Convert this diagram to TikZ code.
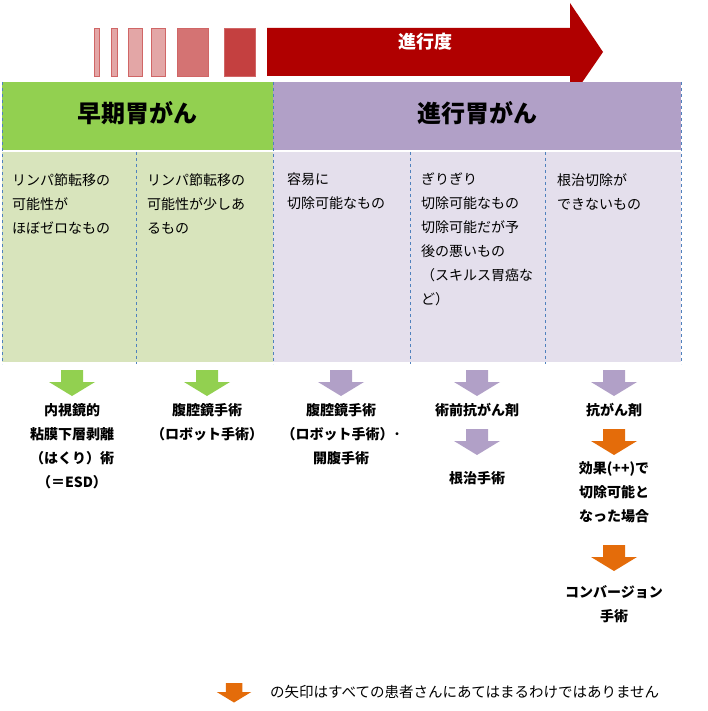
\documentclass[tikz,border=0pt]{standalone}
\usepackage{fontspec}
\setmainfont{Noto Sans CJK JP}
\definecolor{gA}{HTML}{92D050}
\definecolor{gB}{HTML}{D8E4BC}
\definecolor{pA}{HTML}{B1A0C7}
\definecolor{pB}{HTML}{E4DFEC}
\definecolor{rA}{HTML}{B00000}
\definecolor{oA}{HTML}{E46C0A}
\definecolor{dl}{HTML}{4F81BD}
\tikzset{
 dv/.style={draw=dl,dashed,line width=0.6pt},
 cell/.style={anchor=north west,align=left,font=\fontsize{14}{24}\selectfont,inner sep=0pt},
 lab/.style={anchor=north,align=center,font=\fontsize{14}{24}\selectfont\bfseries,inner sep=0pt},
}
% \myarr{name}{x}{ytop}{colour}{scale}
\newcommand\myarr[5]{%
 \coordinate (#1) at (#2,#3);
 \fill[#4,shift={(#1)},scale=#5] (-11,0) -- (11,0) -- (11,12) -- (23,12) -- (0,26) -- (-23,12) -- (-11,12) -- cycle;}
\begin{document}
\begin{tikzpicture}[x=1pt,y=-1pt]
\useasboundingbox[fill=white] (0,0) rectangle (707,711);
% progress bar
\foreach \a/\b/\c in {94/99/35,111/117/35,128/142/35,151/165/35,177/208/55,224/255/75}
  \fill[rA!\c,draw=rA!60] (\a,28) rectangle (\b,76);
\fill[rA] (267,28) -- (570,28) -- (570,3) -- (603,52) -- (570,100) -- (570,76) -- (267,76) -- cycle;
\node[text=white,font=\fontsize{18}{18}\selectfont\bfseries] (prog) at (425,42) {進行度};
% headers
\fill[gA] (2,82) rectangle (273,150);
\fill[pA] (273,82) rectangle (681,150);
\node[font=\fontsize{24}{24}\selectfont\bfseries] (h1) at (137,113) {早期胃がん};
\node[font=\fontsize{24}{24}\selectfont\bfseries] (h2) at (477,113) {進行胃がん};
\fill[gB] (2,152) rectangle (273,362);
\fill[pB] (273,152) rectangle (681,362);
\draw[white,line width=2pt] (2,151) -- (681,151);
\foreach \x in {2,273,681} \draw[dv] (\x,82) -- (\x,364);
\foreach \x in {136,410,545} \draw[dv] (\x,152) -- (\x,364);
% cell texts
\node[cell] (c1) at (12,173) {リンパ節転移の\\可能性が\\ほぼゼロなもの};
\node[cell] (c2) at (147,173) {リンパ節転移の\\可能性が少しあ\\るもの};
\node[cell] (c3) at (287,173) {容易に\\切除可能なもの};
\node[cell] (c4) at (421,173) {ぎりぎり\\切除可能なもの\\切除可能だが予\\後の悪いもの\\（スキルス胃癌な\\ど）};
\node[cell] (c5) at (557,173) {根治切除が\\できないもの};
% arrows
\myarr{a1}{72}{370}{gA}{1}
\myarr{a2}{207}{370}{gA}{1}
\myarr{a3}{341}{370}{pA}{1}
\myarr{a4}{477}{370}{pA}{1}
\myarr{a5}{614}{370}{pA}{1}
\node[lab] (t1) at (72,403) {内視鏡的\\粘膜下層剥離\\（はくり）術\\（＝ESD）};
\node[lab] (t2) at (207,403) {腹腔鏡手術\\（ロボット手術）};
\node[lab] (t3) at (341,403) {腹腔鏡手術\\（ロボット手術）･\\開腹手術};
\node[lab] (t4) at (477,403) {術前抗がん剤};
\myarr{a6}{477}{429}{pA}{1}
\node[lab] (t6) at (477,471) {根治手術};
\node[lab] (t5) at (614,403) {抗がん剤};
\myarr{a7}{614}{429}{oA}{1}
\node[lab] (t7) at (614,461) {効果(++)で\\切除可能と\\なった場合};
\myarr{a8}{614}{545}{oA}{1}
\node[lab] (t8) at (614,585) {コンバージョン\\手術};
% legend
\myarr{lg}{234}{683}{oA}{0.75}
\node[anchor=west,font=\fontsize{14.5}{14.5}\selectfont,inner sep=0pt] (lt) at (270,692) {の矢印はすべての患者さんにあてはまるわけではありません};
\end{tikzpicture}
\end{document}
